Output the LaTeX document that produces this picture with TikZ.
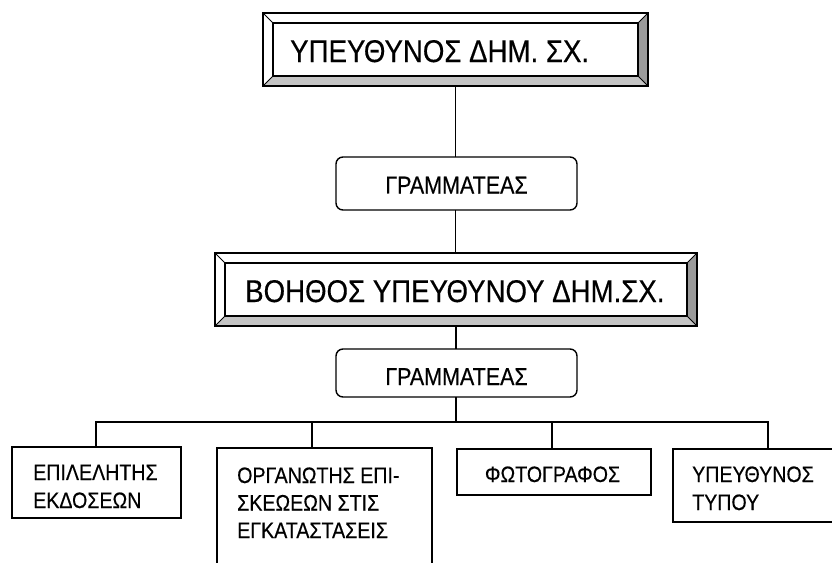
\documentclass[tikz,border=0pt]{standalone}
\usepackage{fontspec}
\setmainfont{Liberation Sans}[FakeStretch=0.88,FakeBold=0.4]
\usetikzlibrary{calc}
\definecolor{bevright}{HTML}{9A9A9A}
\definecolor{bevbottom}{HTML}{C4C4C4}
\tikzset{
  frame/.style={draw, rectangle, inner sep=0pt, outer sep=0pt, anchor=north west, line width=1.4pt},
  rbox/.style={frame, rounded corners=7pt},
  bigtxt/.style={anchor=base west, inner sep=0pt, font=\fontsize{31.4}{36}\selectfont},
  midtxt/.style={inner sep=0pt, font=\fontsize{24.4}{28}\selectfont},
  smalltxt/.style={anchor=base west, inner sep=0pt, font=\fontsize{22.3}{26}\selectfont},
  conn/.style={line width=1.5pt}
}
\newcommand\bevelfill[1]{%
  \path (#1.north west) coordinate (#1A) (#1.north east) coordinate (#1B)
        (#1.south east) coordinate (#1C) (#1.south west) coordinate (#1D);
  \path ($(#1A)+(10,10)$) coordinate (#1a) ($(#1B)+(-10,10)$) coordinate (#1b)
        ($(#1C)+(-10,-10)$) coordinate (#1c) ($(#1D)+(10,-10)$) coordinate (#1d);
  \fill[bevright] (#1B) -- (#1C) -- (#1c) -- (#1b) -- cycle;
  \fill[bevbottom] (#1C) -- (#1D) -- (#1d) -- (#1c) -- cycle;
  \draw[line width=0.9pt] (#1A) -- (#1a) (#1B) -- (#1b) (#1C) -- (#1c) (#1D) -- (#1d);
  \draw[line width=1.4pt] (#1a) rectangle (#1c);
  \draw[line width=1.4pt] (#1A) rectangle (#1C);
}
\begin{document}
\begin{tikzpicture}[x=1pt,y=-1pt]
\useasboundingbox (0,0) rectangle (832,562);
\clip (0,0) rectangle (832,562);
\fill[white] (0,0) rectangle (832,562);

% top bevel box
\node[frame, minimum width=385pt, minimum height=73pt] (top) at (263,13) {};
\bevelfill{top}
\node[bigtxt] (toptxt) at (290,62) {ΥΠΕΥΘΥΝΟΣ ΔΗΜ. ΣΧ.};

% secretary 1
\node[rbox, minimum width=241pt, minimum height=53pt] (g1) at (336,157) {};
\node[midtxt, anchor=base] (g1txt) at (456.5,193.5) {ΓΡΑΜΜΑΤΕΑΣ};

% middle bevel box
\node[frame, minimum width=482pt, minimum height=73pt] (mid) at (215,253) {};
\bevelfill{mid}
\node[bigtxt] (midtxt) at (245,302) {ΒΟΗΘΟΣ ΥΠΕΥΘΥΝΟΥ ΔΗΜ.ΣΧ.};

% secretary 2
\node[rbox, minimum width=241pt, minimum height=48pt] (g2) at (336,349) {};
\node[midtxt, anchor=base] (g2txt) at (456.5,385) {ΓΡΑΜΜΑΤΕΑΣ};

% bottom boxes
\node[frame, minimum width=169pt, minimum height=71pt] (b1) at (12,447) {};
\node[smalltxt] (b1l1) at (33,480) {ΕΠΙΛΕΛΗΤΗΣ};
\node[smalltxt] (b1l2) at (33,508) {ΕΚΔΟΣΕΩΝ};

\node[frame, minimum width=215pt, minimum height=160pt] (b2) at (217,448) {};
\node[smalltxt] (b2l1) at (237,483) {ΟΡΓΑΝΩΤΗΣ ΕΠΙ-};
\node[smalltxt] (b2l2) at (237,510.5) {ΣΚΕΩΕΩΝ ΣΤΙΣ};
\node[smalltxt] (b2l3) at (237,538) {ΕΓΚΑΤΑΣΤΑΣΕΙΣ};

\node[frame, minimum width=194pt, minimum height=46pt] (b3) at (457,449) {};
\node[smalltxt, anchor=base] (b3l1) at (552.5,482) {ΦΩΤΟΓΡΑΦΟΣ};

\node[frame, minimum width=200pt, minimum height=73pt] (b4) at (673,449) {};
\node[smalltxt] (b4l1) at (692,482) {ΥΠΕΥΘΥΝΟΣ};
\node[smalltxt] (b4l2) at (692,510) {ΤΥΠΟΥ};

% connectors
\coordinate (d1) at (96,422);
\coordinate (d2) at (312,422);
\coordinate (dc) at (456,422);
\coordinate (d3) at (552,422);
\coordinate (d4) at (768,422);
\draw[conn] (top.south) -- (top.south |- g1.north);
\draw[conn] (top.south |- g1.south) -- (top.south |- mid.north);
\draw[conn] (mid.south) -- (mid.south |- g2.north);
\draw[conn] (mid.south |- g2.south) -- (dc);
\draw[conn] (d1 |- b1.north) -- (d1) -- (d4) -- (d4 |- b4.north);
\draw[conn] (d2) -- (d2 |- b2.north);
\draw[conn] (d3) -- (d3 |- b3.north);
\end{tikzpicture}
\end{document}
